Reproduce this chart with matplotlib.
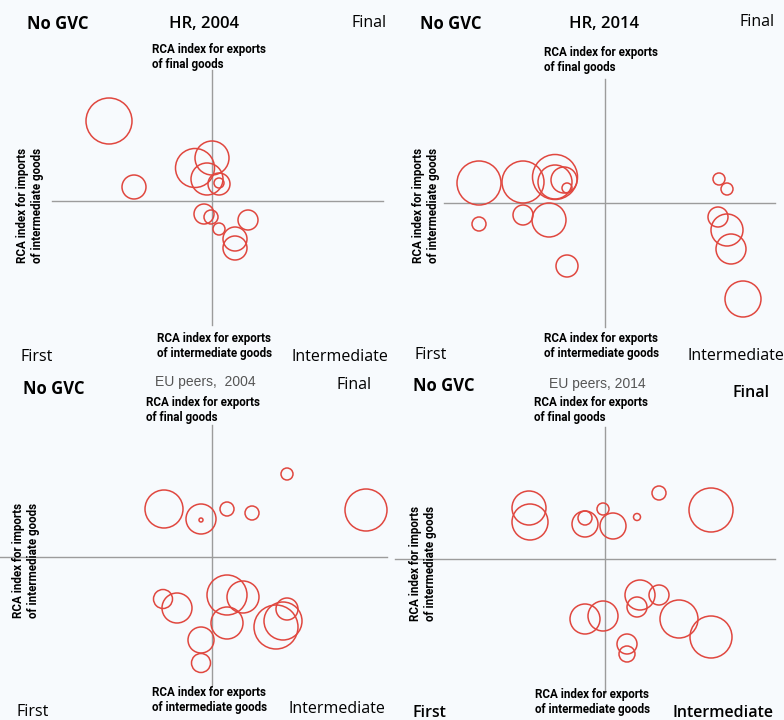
import numpy as np
import matplotlib
matplotlib.use("Agg")
import matplotlib.pyplot as plt

# ==========================================
# DATA (offsets from the quadrant origin, bubble radius)
# ==========================================

hr04_x = [-10.3, -7.8, -1.7, 0.0, -0.5, 0.7, 0.7, -0.8, -0.1, 0.7, 3.6, 2.3, 2.3]
hr04_y = [8.0, 1.4, 3.3, 4.3, 2.2, 1.7, 1.8, -1.3, -1.6, -2.8, -1.9, -3.8, -4.7]
hr04_r = [23, 12, 19.5, 17, 16, 11, 5, 10, 7, 6, 10, 12, 12]

hr14_x = [-12.6, -8.2, -5.0, -5.0, -4.1, -3.8, -12.6, -8.2, -5.6, -3.8,
          11.4, 12.2, 11.3, 12.2, 12.6, 13.8]
hr14_y = [2.0, 2.1, 2.6, 2.1, 2.3, 1.5, -2.1, -1.2, -1.7, -6.3,
          2.4, 1.4, -1.4, -2.7, -4.6, -9.6]
hr14_r = [22, 21, 22.5, 17, 13, 5, 7, 10, 17, 11, 6, 6, 10, 16, 15, 18]

eu04_x = [7.5, -4.8, -1.1, -1.1, 1.5, 4.0, 15.4, -4.9, -3.5, 1.5, 3.1,
          1.5, -1.1, -1.1, 6.4, 7.1, 7.5]
eu04_y = [8.3, 4.8, 3.8, 3.7, 4.8, 4.4, 4.7, -4.2, -5.1, -3.8, -4.0,
          -6.6, -8.3, -10.6, -7.0, -6.4, -5.2]
eu04_r = [6, 19, 15, 2, 7, 7, 21, 9.5, 15, 20, 16, 16, 13, 9.5, 22, 19, 11]

eu14_x = [-7.6, -7.5, -2.0, -2.0, -0.2, 0.8, 3.2, 5.4, 10.6, 3.5, 5.4,
          3.2, -2.0, -0.2, 7.4, 10.6, 2.2, 2.2]
eu14_y = [5.1, 3.7, 3.5, 4.1, 5.0, 3.3, 4.2, 6.6, 4.9, -3.6, -3.6,
          -4.8, -6.0, -5.7, -6.0, -7.8, -8.5, -9.5]
eu14_r = [17, 18, 13, 7, 6, 13, 3.5, 7, 22, 15, 10, 10, 15, 15, 19, 21, 10, 8]

titles = ["HR, 2004", "HR, 2014", "EU peers,  2004", "EU peers, 2014"]

# ==========================================
# LAYOUT (pixels)
# ==========================================

W, H = 784, 720
BG = "#f7fafd"
RED = "#e0473f"
GREY = "#9c9c9c"

fig = plt.figure(figsize=(W / 100, H / 100), dpi=100, facecolor=BG)

narrow = ["Roboto", "DejaVu Sans"]
main = ["Open Sans", "DejaVu Sans"]


def ftext(x, y, s, **kw):
    fig.text(x / W, 1 - y / H, s, **kw)


# panel: left, top, origin x, origin y, hline span, vline span
panels = [
    dict(L=0, T=0, cx=212, cy=201, h=(52, 383), v=(70, 325),
         xs=hr04_x, ys=hr04_y, rs=hr04_r),
    dict(L=392, T=0, cx=605, cy=203, h=(444, 775), v=(79, 327),
         xs=hr14_x, ys=hr14_y, rs=hr14_r),
    dict(L=0, T=360, cx=212, cy=557, h=(0, 387), v=(425, 685),
         xs=eu04_x, ys=eu04_y, rs=eu04_r),
    dict(L=392, T=360, cx=605, cy=559, h=(395, 775), v=(427, 693),
         xs=eu14_x, ys=eu14_y, rs=eu14_r),
]

for p in panels:
    L, T = p["L"], p["T"]
    ax = fig.add_axes([L / W, 1 - (T + 360) / H, 392 / W, 360 / H])
    ax.set_xlim((L - p["cx"]) / 10, (L + 392 - p["cx"]) / 10)
    ax.set_ylim((p["cy"] - (T + 360)) / 10, (p["cy"] - T) / 10)
    ax.axis("off")

    ax.axhline(0, xmin=(p["h"][0] - L) / 392, xmax=(p["h"][1] - L) / 392,
               color=GREY, lw=1, zorder=1)
    ax.axvline(0, ymin=1 - (p["v"][1] - T) / 360, ymax=1 - (p["v"][0] - T) / 360,
               color=GREY, lw=1, zorder=1)

    sizes = (2 * np.array(p["rs"]) * 0.72) ** 2
    ax.scatter(p["xs"], p["ys"], s=sizes, facecolors="none",
               edgecolors=RED, linewidths=1.1, zorder=2)

# ==========================================
# TEXT
# ==========================================

rca_kw = dict(family=narrow, fontweight="bold", fontsize=8.4, color="black",
              linespacing=1.15)
fin = "RCA index for exports\nof final goods"
inter = "RCA index for exports\nof intermediate goods"
imp = "RCA index for imports\nof intermediate goods"
title_kw = dict(family=main, fontweight="semibold", fontsize=12,
                ha="center", va="center")
eu_kw = dict(family=["Liberation Sans", "DejaVu Sans"], fontsize=10,
             color="#555555", ha="center", va="center")
nogvc_kw = dict(family=main, fontweight="bold", fontsize=12, va="center")
corner_kw = dict(family=main, fontsize=11.5, va="center")

# HR 2004
ftext(27, 24, "No GVC", **nogvc_kw)
ftext(204, 24, titles[0], **title_kw)
ftext(387, 23, "Final", ha="right", **corner_kw)
ftext(152, 57, fin, va="center", **rca_kw)
ftext(157, 346, inter, va="center", **rca_kw)
ftext(20, 357, "First", **corner_kw)
ftext(388, 357, "Intermediate", ha="right", **corner_kw)
ftext(30, 205, imp, rotation=90, ha="center", va="center", **rca_kw)

# HR 2014
ftext(420, 24, "No GVC", **nogvc_kw)
ftext(604, 24, titles[1], **title_kw)
ftext(775, 22, "Final", ha="right", **corner_kw)
ftext(544, 60, fin, va="center", **rca_kw)
ftext(544, 346, inter, va="center", **rca_kw)
ftext(415, 355, "First", **corner_kw)
ftext(784, 356, "Intermediate", ha="right", **corner_kw)
ftext(426, 205, imp, rotation=90, ha="center", va="center", **rca_kw)

# EU peers 2004
ftext(23, 389, "No GVC", **nogvc_kw)
ftext(205, 382, titles[2], **eu_kw)
ftext(372, 385, "Final", ha="right", **corner_kw)
ftext(146, 410, fin, va="center", **rca_kw)
ftext(152, 700, inter, va="center", **rca_kw)
ftext(16, 712, "First", **corner_kw)
ftext(385, 709, "Intermediate", ha="right", **corner_kw)
ftext(26, 560, imp, rotation=90, ha="center", va="center", **rca_kw)

# EU peers 2014
ftext(413, 386, "No GVC", **nogvc_kw)
ftext(597, 384, titles[3], **eu_kw)
ftext(770, 393, "Final", ha="right", fontweight="semibold", **corner_kw)
ftext(534, 410, fin, va="center", **rca_kw)
ftext(535, 702, inter, va="center", **rca_kw)
ftext(413, 713, "First", fontweight="semibold", **corner_kw)
ftext(773, 713, "Intermediate", ha="right", fontweight="semibold", **corner_kw)
ftext(423, 563, imp, rotation=90, ha="center", va="center", **rca_kw)

fig.savefig("out.png", dpi=100, facecolor=BG)
